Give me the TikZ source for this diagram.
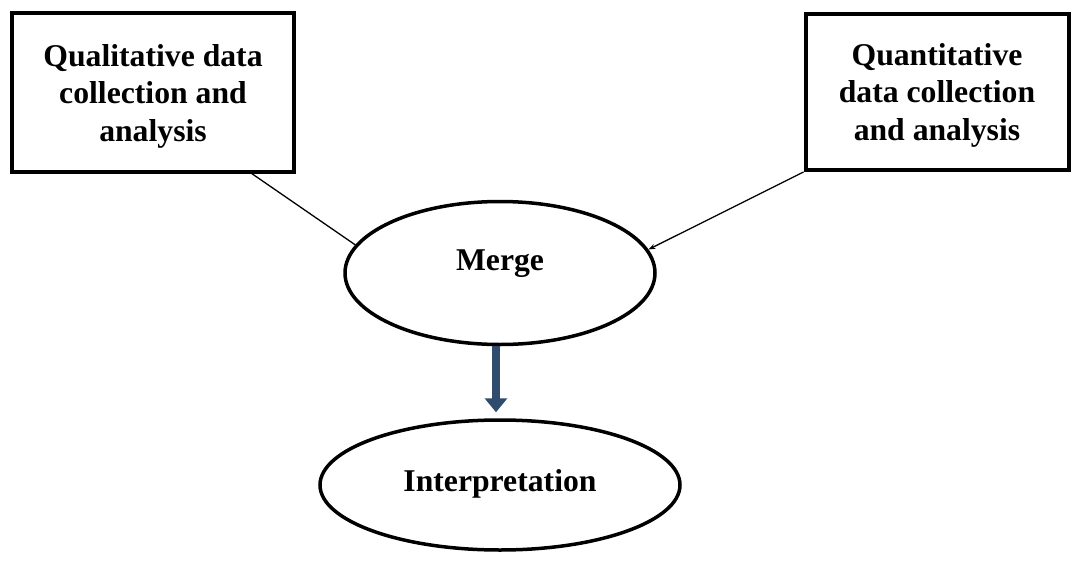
\documentclass[tikz,border=0pt]{standalone}
\usepackage{fontspec}
\setmainfont{Liberation Serif}
\usetikzlibrary{shapes.geometric,arrows.meta,calc}
\begin{document}
\begin{tikzpicture}[x=1pt,y=-1pt,
  lbl/.style={font=\fontsize{31.7}{37.5}\selectfont\bfseries, align=center, inner sep=0pt},
  box/.style={draw, line width=4pt, rectangle, inner sep=0pt},
  oval/.style={draw, line width=3.5pt, ellipse, inner sep=0pt},
  link/.style={line width=1.3pt},
  flow/.style={line width=8pt, draw={rgb,255:red,47;green,75;blue,110},
    -{Triangle[length=14pt,width=22pt]}, shorten >=6pt}
]
\useasboundingbox (0,0) rectangle (1071,570);
\fill[white] (0,0) rectangle (1071,570);

% source boxes
\node[box, minimum width=282pt, minimum height=159pt,
  label={[lbl, yshift=-4pt]center:{Qualitative data\\collection and\\analysis}}] (qual) at (153,92) {};
\node[box, minimum width=263pt, minimum height=156pt,
  label={[lbl, yshift=-3pt]center:{Quantitative\\data collection\\and analysis}}] (quant) at (937,92) {};

% merge and interpretation ovals
\node[oval, minimum width=310pt, minimum height=143pt,
  label={[lbl, yshift=9pt]center:Merge}] (merge) at (500,273) {};
\node[oval, minimum width=360pt, minimum height=130pt,
  label={[lbl, yshift=1pt]center:Interpretation}] (interp) at (500,485) {};

% connectors
\draw[link] ($(qual.south west)!0.845!(qual.south east)$) -- (merge.169);
\draw[link, -{Stealth[length=7pt,width=5pt]}] (quant.south west) -- (merge.9);
\draw[flow] ([xshift=-4pt]merge.south) -- ([xshift=-4pt]interp.north);
\end{tikzpicture}
\end{document}
